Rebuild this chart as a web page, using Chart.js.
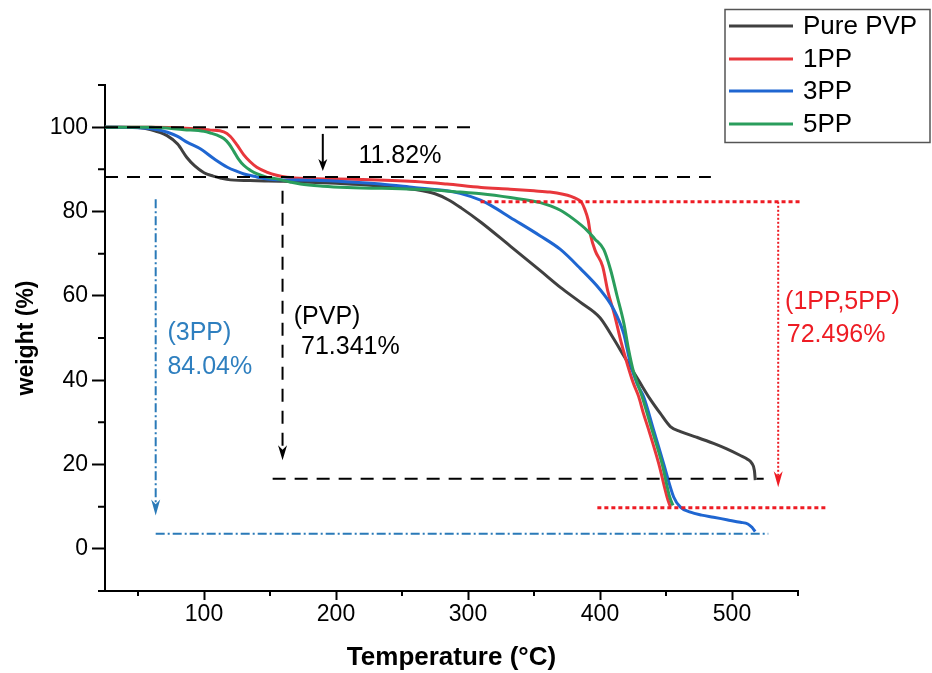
<!DOCTYPE html>
<html><head><meta charset="utf-8">
<script src="https://cdn.jsdelivr.net/npm/chart.js@4.4.1/dist/chart.umd.min.js"></script>
<style>html,body{margin:0;padding:0;background:#fff}#wrap{width:932px;height:673px;position:relative}</style>
</head><body><div id="wrap"><canvas id="c"></canvas></div>
<script>
const seriesNames = ['Pure PVP', '1PP', '3PP', '5PP'];
const seriesColors = ['#404040', '#e8373c', '#1f66d1', '#2a9d5c'];

const pvpTemp   = [25, 50, 60, 72, 80, 87, 93, 100, 107, 113, 120, 140, 160, 200, 240, 260, 275, 285, 295, 310, 332, 355, 370, 385, 400, 410, 418, 423, 430.5, 438, 445.7, 453.3, 461, 473, 486, 496, 506, 512, 515, 517, 517.6];
const pvpWeight = [100, 99.9, 99.4, 98.0, 96.0, 92.8, 90.8, 89.2, 88.4, 87.9, 87.5, 87.3, 87.2, 86.7, 85.9, 85.2, 84.2, 82.8, 80.8, 77.4, 71.8, 65.9, 62.0, 58.5, 54.8, 50.0, 45.8, 43.2, 39.3, 35.5, 32.1, 29.0, 27.8, 26.5, 25.0, 23.7, 22.2, 21.2, 20.3, 18.5, 16.3];

const pp1Temp   = [25, 60, 90, 105, 115, 120, 125, 130, 135, 140, 148, 155, 163, 180, 220, 260, 284, 310, 332, 350, 362, 372, 378, 383, 386, 388.5, 391, 393, 396.5, 402, 406, 411, 416, 420.5, 425, 429.3, 433, 436.9, 444.5, 450.8, 453.3];
const pp1Weight = [100, 100, 99.7, 99.3, 98.9, 97.8, 95.8, 93.5, 91.8, 90.5, 89.3, 88.6, 88.1, 87.8, 87.6, 87.1, 86.5, 85.7, 85.3, 84.9, 84.6, 84.1, 83.6, 82.9, 82.2, 80.5, 78.0, 74.2, 70.6, 67.0, 61.0, 55.5, 49.0, 44.0, 39.5, 36.1, 32.0, 28.2, 20.2, 12.3, 9.9];

const pp3Temp   = [25, 54.5, 65, 72.3, 80, 87.4, 97.5, 107.6, 117.7, 125, 130.3, 140, 148, 160, 183, 210, 233.8, 259, 284, 294, 309.5, 317, 332, 354.8, 370, 385, 400, 410, 418, 420.5, 423, 428, 433, 440.6, 448.2, 455.8, 460.9, 468.5, 477, 486, 496, 506.3, 512, 515.1, 517.6];
const pp3Weight = [100, 99.8, 99.4, 98.8, 97.8, 96.4, 94.8, 92.5, 90.5, 89.5, 88.9, 88.2, 87.7, 87.5, 87.4, 87.0, 86.5, 85.7, 84.9, 84.3, 82.7, 81.5, 78.6, 74.2, 71.0, 66.5, 61.5, 57.0, 51.0, 47.5, 44.0, 39.2, 36.1, 28.2, 20.2, 12.3, 9.9, 8.7, 8.0, 7.5, 6.9, 6.3, 5.9, 5.1, 4.1];

const pp5Temp   = [25, 60, 85, 100, 105, 110, 115, 119, 122.7, 126, 130.3, 135, 140.4, 148, 155.6, 165, 173, 190, 208.6, 259, 280, 294, 310, 332, 354.8, 370, 380, 390, 396, 402.8, 407.9, 413, 418, 421.7, 425, 431.9, 439.4, 447, 452.8, 455.3];
const pp5Weight = [100, 100, 99.4, 99.0, 98.6, 98.1, 97.3, 96.0, 94.2, 92.5, 90.9, 89.8, 88.9, 88.1, 87.7, 87.0, 86.5, 86.0, 85.7, 85.3, 85.0, 84.6, 84.2, 83.3, 82.1, 80.3, 78.2, 75.6, 73.5, 71.0, 66.3, 59.9, 53.6, 47.2, 42.5, 36.1, 28.2, 20.2, 12.3, 10.3];

const xMajorTicks = [100, 200, 300, 400, 500];
const xMinorTicks = [50, 150, 250, 350, 450, 550];
const yMajorTicks = [0, 20, 40, 60, 80, 100];
const yMinorTicks = [-10, 10, 30, 50, 70, 90, 110];

const annotationTexts = ['11.82%', '(PVP)', '71.341%', '(3PP)', '84.04%', '(1PP,5PP)', '72.496%'];

function pts(t, w) { return t.map((v, i) => ({ x: v, y: w[i] })); }

const FONT = '"Liberation Sans", Arial, sans-serif';

const minorTicksPlugin = {
  id: 'minorTicks',
  afterDraw(chart) {
    const { ctx, scales: { x, y }, chartArea: a } = chart;
    ctx.save();
    ctx.strokeStyle = '#000';
    ctx.lineWidth = 2;
    ctx.beginPath();
    xMinorTicks.forEach(v => { const px = x.getPixelForValue(v); ctx.moveTo(px, a.bottom); ctx.lineTo(px, a.bottom + 5); });
    yMinorTicks.forEach(v => { const py = y.getPixelForValue(v); ctx.moveTo(a.left - 7, py); ctx.lineTo(a.left, py); });
    ctx.stroke();
    ctx.restore();
  }
};

const annotPlugin = {
  id: 'annot',
  afterDatasetsDraw(chart) {
    const { ctx, scales: { x, y } } = chart;
    const X = v => x.getPixelForValue(v), Y = v => y.getPixelForValue(v);
    function line(x1, y1, x2, y2, color, w, dash) {
      ctx.save(); ctx.strokeStyle = color; ctx.lineWidth = w; ctx.setLineDash(dash);
      ctx.beginPath(); ctx.moveTo(X(x1), Y(y1)); ctx.lineTo(X(x2), Y(y2)); ctx.stroke(); ctx.restore();
    }
    function head(xv, yv, color, w, h) {
      const px = X(xv), py = Y(yv);
      ctx.save(); ctx.fillStyle = color; ctx.beginPath();
      ctx.moveTo(px, py); ctx.lineTo(px - w / 2, py - h); ctx.lineTo(px, py - h * 0.7); ctx.lineTo(px + w / 2, py - h);
      ctx.closePath(); ctx.fill(); ctx.restore();
    }
    function text(s, xv, yv, color) {
      ctx.save(); ctx.fillStyle = color; ctx.font = '25px ' + FONT;
      ctx.textAlign = 'left'; ctx.textBaseline = 'middle';
      ctx.fillText(s, X(xv), Y(yv)); ctx.restore();
    }
    const blk = '#000', red = '#ee1c24', blu = '#2a7ab8';
    const dash = [13, 9], dot = [4, 3], dashDot = [9, 3, 2, 3];
    line(25, 100, 304, 100, blk, 2, dash);
    line(25, 88.18, 484, 88.18, blk, 2, dash);
    line(152, 16.6, 524, 16.6, blk, 2, dash);
    line(190, 98.4, 190, 91.5, blk, 2, []);
    head(190, 89.6, blk, 9, 12);
    line(159.5, 84.9, 159.5, 23.5, blk, 2, dash);
    head(159.5, 21.0, blk, 9, 15);
    line(63.4, 82.9, 63.4, 10.5, blu, 2, dashDot);
    head(63.4, 7.9, blu, 9, 16);
    line(63.4, 3.57, 527.5, 3.57, blu, 2, dashDot);
    line(309.5, 82.3, 552, 82.3, red, 3, dot);
    line(535, 82.3, 535, 17, red, 2, [2, 2]);
    head(535, 14.6, red, 9, 16);
    line(398, 9.76, 573, 9.76, red, 3, dot);
    text(annotationTexts[0], 217, 93.2, blk);
    text(annotationTexts[1], 168, 55.0, blk);
    text(annotationTexts[2], 173.5, 47.8, blk);
    text(annotationTexts[3], 72.3, 51.2, '#2e7fbf');
    text(annotationTexts[4], 72.3, 43.2, '#2e7fbf');
    text(annotationTexts[5], 540.2, 58.4, red);
    text(annotationTexts[6], 541.5, 50.8, red);
  }
};

const legendPlugin = {
  id: 'boxLegend',
  afterDraw(chart) {
    const { ctx } = chart;
    ctx.save();
    ctx.strokeStyle = '#555'; ctx.lineWidth = 1.5;
    ctx.strokeRect(725, 9.5, 205, 133);
    ctx.font = '26px ' + FONT; ctx.textBaseline = 'middle'; ctx.textAlign = 'left';
    const rowY = [26, 59, 91, 124];
    chart.data.datasets.forEach((ds, i) => {
      ctx.strokeStyle = ds.borderColor; ctx.lineWidth = 3;
      ctx.beginPath(); ctx.moveTo(729, rowY[i]); ctx.lineTo(793, rowY[i]); ctx.stroke();
      ctx.fillStyle = '#000'; ctx.fillText(ds.label, 803, rowY[i] + 1);
    });
    ctx.restore();
  }
};

const allTemps = [pvpTemp, pp1Temp, pp3Temp, pp5Temp];
const allWeights = [pvpWeight, pp1Weight, pp3Weight, pp5Weight];

new Chart(document.getElementById('c'), {
  type: 'line',
  data: {
    datasets: seriesNames.map((n, i) => ({
      label: n,
      data: pts(allTemps[i], allWeights[i]),
      borderColor: seriesColors[i],
      backgroundColor: seriesColors[i],
      borderWidth: 3,
      pointRadius: 0,
      cubicInterpolationMode: 'monotone',
      fill: false,
      order: 4 - i
    }))
  },
  options: {
    responsive: true,
    maintainAspectRatio: false,
    animation: false,
    layout: { padding: { top: 85, right: 134, left: 0, bottom: 0 } },
    plugins: { legend: { display: false }, tooltip: { enabled: false } },
    scales: {
      x: {
        type: 'linear', min: 25, max: 550,
        afterBuildTicks: s => { s.ticks = xMajorTicks.map(v => ({ value: v })); },
        afterFit: s => { s.height = 82; },
        border: { color: '#000', width: 2 },
        grid: { drawOnChartArea: false, color: '#000', tickLength: 9, tickWidth: 2 },
        ticks: { color: '#000', font: { family: FONT, size: 23 }, padding: 1, maxRotation: 0 },
        title: { display: true, text: 'Temperature (°C)', color: '#000', font: { family: FONT, size: 26, weight: 'bold', lineHeight: 1.2 }, padding: { top: 0, bottom: 0 } }
      },
      y: {
        type: 'linear', min: -10, max: 110,
        afterBuildTicks: s => { s.ticks = yMajorTicks.map(v => ({ value: v })); },
        afterFit: s => { s.width = 105; },
        border: { color: '#000', width: 2 },
        grid: { drawOnChartArea: false, color: '#000', tickLength: 13, tickWidth: 2 },
        ticks: { color: '#000', font: { family: FONT, size: 23 }, padding: 4 },
        title: { display: true, text: 'weight (%)', color: '#000', font: { family: FONT, size: 23, weight: 'bold', lineHeight: 1.2 }, padding: { top: 13, bottom: 0 } }
      }
    }
  },
  plugins: [minorTicksPlugin, annotPlugin, legendPlugin]
});
</script></body></html>
